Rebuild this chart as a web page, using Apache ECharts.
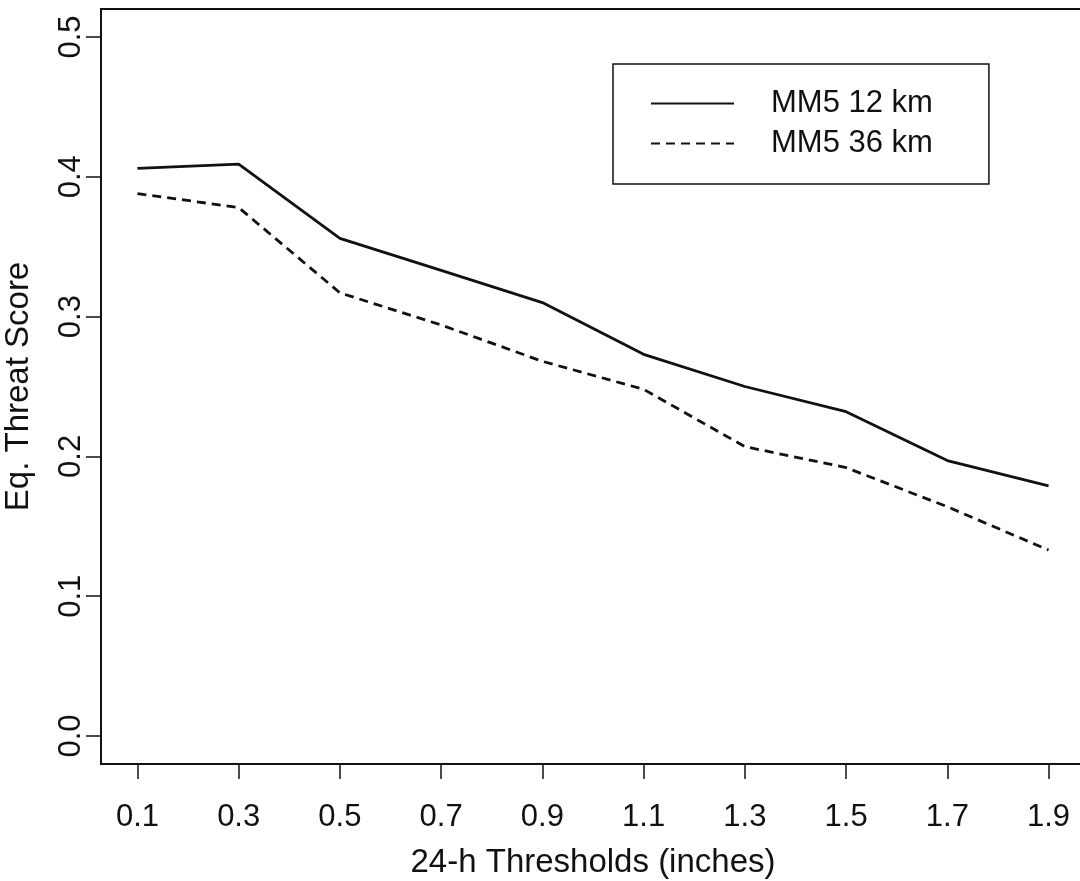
<!DOCTYPE html>
<html>
<head>
<meta charset="utf-8">
<title>Eq. Threat Score</title>
<script src="https://cdn.jsdelivr.net/npm/echarts@6.0.0/dist/echarts.min.js"></script>
<style>
  html, body { margin: 0; padding: 0; background: #fff; overflow: hidden; }
  #chart { width: 1090px; height: 881px; }
</style>
</head>
<body>
<div id="chart"></div>
<script>
// thresholds (inches)
const thresholds = [0.1, 0.3, 0.5, 0.7, 0.9, 1.1, 1.3, 1.5, 1.7, 1.9];
// equitable threat scores
const mm5_12km = [0.406, 0.409, 0.356, 0.333, 0.310, 0.273, 0.250, 0.232, 0.197, 0.179];
const mm5_36km = [0.388, 0.378, 0.317, 0.294, 0.268, 0.248, 0.207, 0.192, 0.164, 0.133];
const yTicks = [0, 0.1, 0.2, 0.3, 0.4, 0.5];

const ink = '#111';
const font = 'Liberation Sans';

function pairs(ys) {
  return thresholds.map((x, i) => [x, ys[i]]);
}

const chart = echarts.init(document.getElementById('chart'));

// plot box runs a few px past the right edge of the 1080 window, like the scan
chart.setOption({
  backgroundColor: '#fff',
  animation: false,
  grid: {
    left: 101,
    right: 5,
    top: 9,
    bottom: 117,
    outerBoundsMode: 'none',
    show: true,
    borderColor: ink,
    borderWidth: 2,
    backgroundColor: 'transparent'
  },
  legend: {
    orient: 'vertical',
    left: 613,
    top: 64,
    padding: [24, 56, 25, 37],
    itemWidth: 83,
    itemHeight: 28,
    itemGap: 9,
    borderColor: ink,
    borderWidth: 1.5,
    borderRadius: 0,
    itemStyle: { opacity: 0 },
    textStyle: {
      fontFamily: font,
      fontSize: 31,
      color: ink,
      padding: [0, 0, 0, 32]
    },
    data: ['MM5 12 km', 'MM5 36 km']
  },
  xAxis: {
    type: 'value',
    min: 0.028,
    max: 1.972,
    name: '24-h Thresholds (inches)',
    nameLocation: 'middle',
    nameGap: 82,
    nameTextStyle: { fontFamily: font, fontSize: 33, color: ink },
    axisLine: { show: false, onZero: false },
    splitLine: { show: false },
    axisTick: {
      show: true,
      inside: false,
      length: 15,
      lineStyle: { color: ink, width: 1.5 },
      customValues: thresholds
    },
    axisLabel: {
      fontFamily: font,
      fontSize: 31,
      color: ink,
      margin: 38,
      customValues: thresholds,
      formatter: v => v.toFixed(1)
    }
  },
  yAxis: {
    type: 'value',
    min: -0.02,
    max: 0.52,
    name: 'Eq. Threat Score',
    nameLocation: 'middle',
    nameGap: 66,
    nameTextStyle: { fontFamily: font, fontSize: 33, color: ink },
    axisLine: { show: false, onZero: false },
    splitLine: { show: false },
    axisTick: {
      show: true,
      inside: false,
      length: 15,
      lineStyle: { color: ink, width: 1.5 },
      customValues: yTicks
    },
    axisLabel: {
      fontFamily: font,
      fontSize: 31,
      color: ink,
      margin: 14,
      rotate: 90,
      customValues: yTicks,
      formatter: v => v.toFixed(1)
    }
  },
  series: [
    {
      name: 'MM5 12 km',
      type: 'line',
      symbol: 'none',
      data: pairs(mm5_12km),
      color: ink,
      lineStyle: { color: ink, width: 2.8, type: 'solid' }
    },
    {
      name: 'MM5 36 km',
      type: 'line',
      symbol: 'none',
      data: pairs(mm5_36km),
      color: ink,
      lineStyle: { color: ink, width: 2.8, type: [9, 6] }
    }
  ]
});
</script>
</body>
</html>
